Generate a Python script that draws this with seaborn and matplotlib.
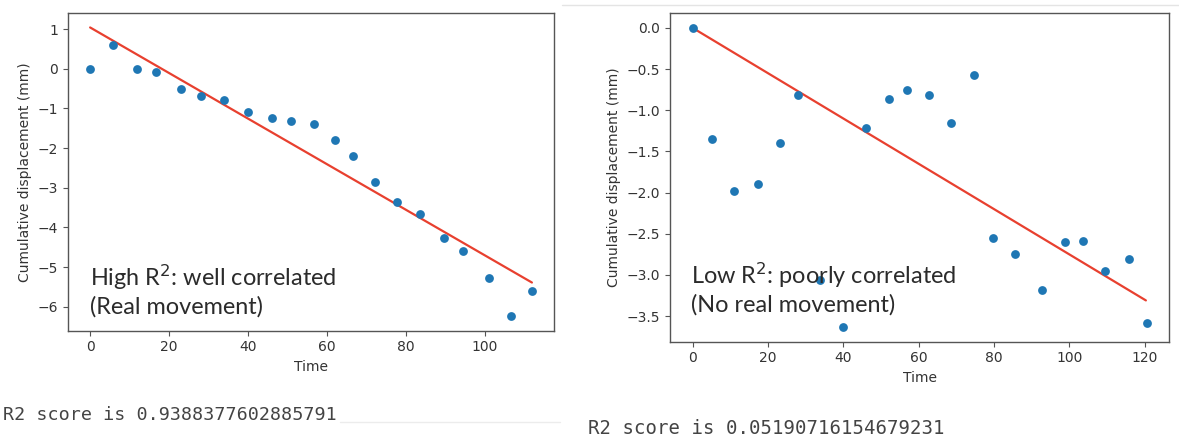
import matplotlib

matplotlib.use("Agg")
import matplotlib.pyplot as plt
import numpy as np
import pandas as pd
import seaborn as sns
from matplotlib.lines import Line2D

# left panel: well correlated series
time_high = [0, 5.9, 12.0, 16.6, 23.0, 28.0, 34.0, 40.0, 46.1, 51.0, 56.7,
             62.0, 66.7, 72.1, 77.8, 83.7, 89.8, 94.5, 101.0, 106.8, 112.0]
disp_high = [0.0, 0.6, 0.0, -0.09, -0.51, -0.7, -0.79, -1.09, -1.23, -1.31, -1.40,
             -1.79, -2.19, -2.85, -3.37, -3.65, -4.26, -4.60, -5.27, -6.24, -5.61]
fit_time_high = [0.0, 112.0]
fit_disp_high = [1.04, -5.39]

# right panel: poorly correlated series
time_low = [0, 5.0, 10.9, 17.2, 23.2, 27.9, 33.8, 39.8, 46.0, 52.2, 56.8,
            62.7, 68.6, 74.6, 79.8, 85.6, 92.7, 98.9, 103.5, 109.4, 115.9, 120.5]
disp_low = [0.0, -1.35, -1.98, -1.89, -1.40, -0.81, -3.06, -3.63, -1.21, -0.86, -0.75,
            -0.81, -1.15, -0.57, -2.55, -2.75, -3.18, -2.60, -2.59, -2.95, -2.81, -3.58]
fit_time_low = [0.0, 120.3]
fit_disp_low = [0.0, -3.31]

notes = ["High R$^2$: well correlated\n(Real movement)",
         "Low R$^2$: poorly correlated\n(No real movement)"]
scores = ["R2 score is 0.9388377602885791", "R2 score is 0.05190716154679231"]

sns.set_style("ticks")
plt.rcParams["font.family"] = ["DejaVu Sans"]
plt.rcParams["axes.edgecolor"] = "#555555"
plt.rcParams["xtick.color"] = "#555555"
plt.rcParams["ytick.color"] = "#555555"
plt.rcParams["xtick.labelcolor"] = "#333333"
plt.rcParams["ytick.labelcolor"] = "#333333"
plt.rcParams["axes.labelcolor"] = "#333333"

fig = plt.figure(figsize=(11.79, 4.44), dpi=100)
ax1 = fig.add_axes([0.0577, 0.2552, 0.4122, 0.7155])
ax2 = fig.add_axes([0.5683, 0.2304, 0.4235, 0.7403])

panels = [
    (ax1, time_high, disp_high, fit_time_high, fit_disp_high, notes[0], 0.045, 0.128),
    (ax2, time_low, disp_low, fit_time_low, fit_disp_low, notes[1], 0.043, 0.163),
]

for ax, t, d, ft, fd, note, tx, ty in panels:
    df = pd.DataFrame({"Time": t, "disp": d})
    fit = pd.DataFrame({"Time": ft, "disp": fd})
    sns.scatterplot(data=df, x="Time", y="disp", ax=ax, color="#1f77b4",
                    s=40, linewidth=0, zorder=3)
    sns.lineplot(data=fit, x="Time", y="disp", ax=ax, color="#e8402f",
                 linewidth=1.6, zorder=2)
    ax.set_xlabel("Time", fontsize=10)
    ax.set_ylabel("Cumulative displacement (mm)", fontsize=10)
    ax.tick_params(labelsize=10, width=0.8, length=3.5)
    for sp in ax.spines.values():
        sp.set_linewidth(1.0)
    ax.text(tx, ty, note, transform=ax.transAxes, fontsize=16.9,
            family=["Lato", "DejaVu Sans"], color="#2b2b2b",
            va="center", ha="left", linespacing=1.22)

ax2.set_yticks(np.arange(-3.5, 0.01, 0.5))

fig.text(3 / 1179, 1 - 415 / 444, scores[0], family=["DejaVu Sans Mono"],
         fontsize=13.2, color="#444444", va="center", ha="left")
fig.text(588 / 1179, 1 - 428 / 444, scores[1], family=["DejaVu Sans Mono"],
         fontsize=13.7, color="#444444", va="center", ha="left")

# faint notebook cell borders
fig.add_artist(Line2D([562 / 1179, 1.0], [1 - 5 / 444, 1 - 5 / 444],
                      transform=fig.transFigure, color="#e4e4e4", lw=1))
fig.add_artist(Line2D([340 / 1179, 560 / 1179], [1 - 422 / 444, 1 - 422 / 444],
                      transform=fig.transFigure, color="#ececec", lw=1))

fig.savefig("out.png", dpi=100, facecolor="white")
